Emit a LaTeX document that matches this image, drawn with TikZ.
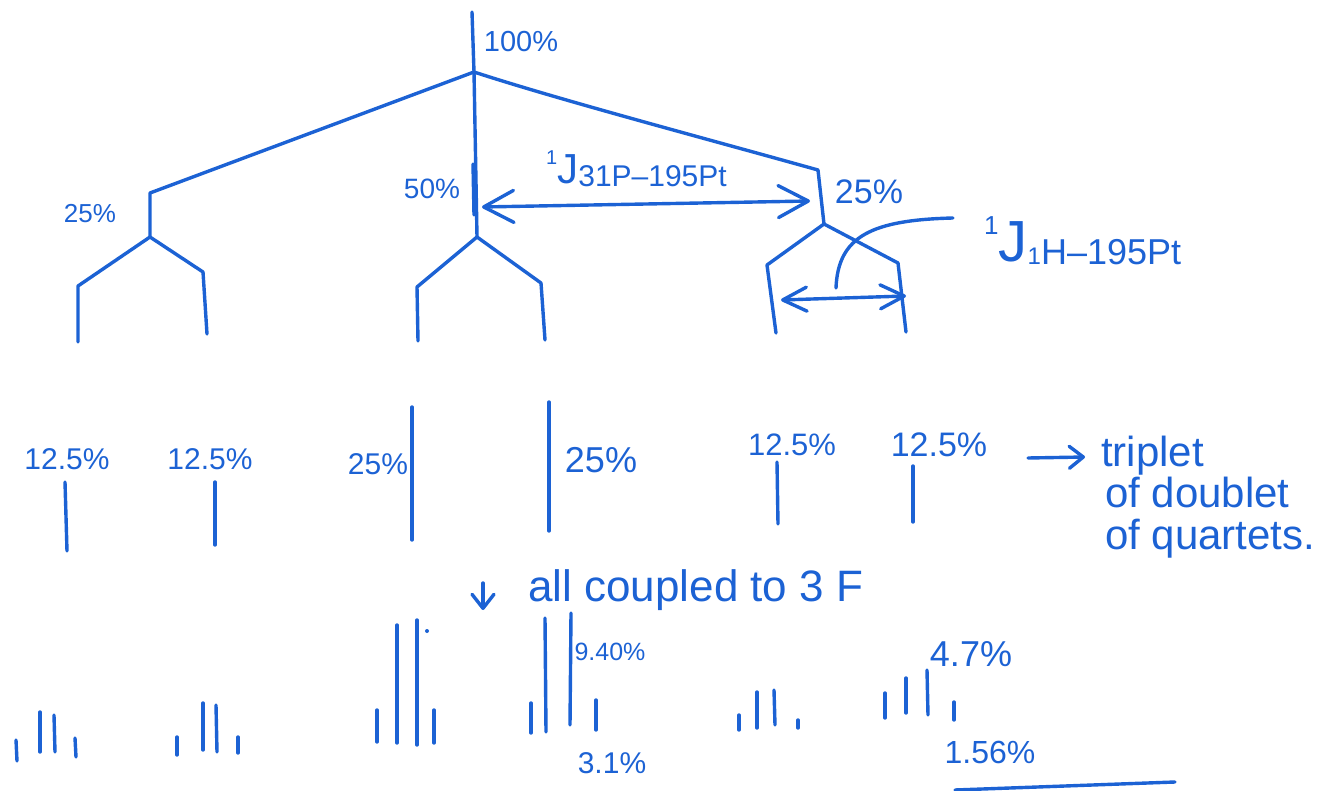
\documentclass[tikz,border=0pt]{standalone}
\usepackage{fontspec}
\setmainfont{Liberation Sans}
\usetikzlibrary{arrows.meta}
\definecolor{ink}{RGB}{28,98,212}
\tikzset{
  pen/.style={draw=ink, line width=3.4pt, line cap=round, line join=round},
  lbl/.style={text=ink, inner sep=0pt, font=\fontsize{#1}{#1}\selectfont},
  bigarr/.style={arrows={Straight Barb[round,length=30pt,width=32pt]-Straight Barb[round,length=30pt,width=32pt]}},
  smallarr/.style={arrows={Straight Barb[round,length=24pt,width=24pt]-Straight Barb[round,length=24pt,width=24pt]}},
  onearr/.style={arrows={-Straight Barb[round,length=14pt,width=22pt]}}
}
\begin{document}
\begin{tikzpicture}[x=1pt,y=-1pt]
\useasboundingbox (0,0) rectangle (1328,791);
% ---------- coordinates of the splitting tree ----------
\coordinate (r0) at (472,12);  \coordinate (r1) at (474,72);
\coordinate (l0) at (150,193); \coordinate (l1) at (150,237);
\coordinate (l2) at (78,286);  \coordinate (l3) at (78,342);
\coordinate (l4) at (203,272); \coordinate (l5) at (207,334);
\coordinate (m1) at (477,237);
\coordinate (m2) at (417,287); \coordinate (m3) at (418,341);
\coordinate (m4) at (541,283); \coordinate (m5) at (545,340);
\coordinate (ms0) at (473,164); \coordinate (ms1) at (474,215);
\coordinate (t0) at (818,170); \coordinate (t1) at (824,224);
\coordinate (t2) at (767,265); \coordinate (t3) at (776,333);
\coordinate (t4) at (898,263); \coordinate (t5) at (906,332);
% tree
\draw[pen] (r0) -- (r1) -- (m1);
\draw[pen] (ms0) -- (ms1);
\draw[pen] (r1) -- (l0) -- (l1);
\draw[pen] (l3) -- (l2) -- (l1) -- (l4) -- (l5);
\draw[pen] (m3) -- (m2) -- (m1) -- (m4) -- (m5);
\draw[pen] (r1) .. controls (560,100) and (700,137) .. (t0) -- (t1);
\draw[pen] (t3) -- (t2) -- (t1) -- (t4) -- (t5);
% labels of tree
\node[lbl=29] (p100) at (521,42) {100\%};
\node[lbl=26] (p25a) at (90,214) {25\%};
\node[lbl=28] (p50) at (432,189) {50\%};
\node[lbl=34] (p25b) at (869,192) {25\%};
% J(P-Pt)
\coordinate (jA) at (482,207); \coordinate (jB) at (810,201);
\draw[pen,bigarr] (jA) -- (jB);
\node[lbl=30, anchor=base west] (jpp) at (546,184)
  {\raisebox{19pt}{\fontsize{20}{20}\selectfont 1}{\fontsize{42}{42}\selectfont J}\raisebox{-3pt}{31P–195Pt}};
% J(H-Pt)
\coordinate (pc0) at (953,218); \coordinate (pc1) at (836,288);
\draw[pen] (pc0) .. controls (872,220) and (838,236) .. (pc1);
\coordinate (hA) at (781,300); \coordinate (hB) at (906,296);
\draw[pen,smallarr] (hA) -- (hB);
\node[lbl=36, anchor=base west] (jhp) at (984,262)
  {\raisebox{27pt}{\fontsize{26}{26}\selectfont 1}{\fontsize{58}{58}\selectfont J}\raisebox{-3pt}{{\fontsize{24}{24}\selectfont 1}H–195Pt}};
% ---------- second row ----------
\coordinate (a1t) at (65,482);  \coordinate (a1b) at (67,551);
\coordinate (a2t) at (215,482); \coordinate (a2b) at (215,545);
\coordinate (a3t) at (412,407); \coordinate (a3b) at (412,540);
\coordinate (a4t) at (549,402); \coordinate (a4b) at (549,531);
\coordinate (a5t) at (777,462); \coordinate (a5b) at (778,524);
\coordinate (a6t) at (913,466); \coordinate (a6b) at (913,522);
\foreach \i in {1,...,6} \draw[pen] (a\i t) -- (a\i b);
\node[lbl=30] (q1) at (67,459) {12.5\%};
\node[lbl=30] (q2) at (210,459) {12.5\%};
\node[lbl=30] (q3) at (378,464) {25\%};
\node[lbl=36] (q4) at (601,460) {25\%};
\node[lbl=31] (q5) at (792,445) {12.5\%};
\node[lbl=34] (q6) at (939,445) {12.5\%};
\coordinate (tA) at (1028,458); \coordinate (tB) at (1085,457);
\draw[pen,onearr] (tA) -- (tB);
\node[lbl=42, anchor=base west] (tr1) at (1101,466) {triplet};
\node[lbl=42, anchor=base west] (tr2) at (1105,507) {of doublet};
\node[lbl=42, anchor=base west] (tr3) at (1105,549) {of quartets.};
% ---------- third row ----------
\coordinate (dA) at (483,583); \coordinate (dB) at (483,610);
\draw[pen,onearr] (dA) -- (dB);
\node[lbl=44, anchor=base west] (cpl) at (528,601) {all coupled to 3 F};
% group 1
\draw[pen] (16,740) -- (17,761);  \draw[pen] (40,712) -- (40,752);
\draw[pen] (54,715) -- (55,752);  \draw[pen] (75,738) -- (76,757);
% group 2
\draw[pen] (177,737) -- (177,755); \draw[pen] (203,703) -- (203,750);
\draw[pen] (216,705) -- (217,752); \draw[pen] (238,737) -- (238,753);
% group 3
\draw[pen] (377,710) -- (377,742); \draw[pen] (397,625) -- (397,743);
\draw[pen] (417,620) -- (417,745); \draw[pen] (434,710) -- (434,743);
\fill[ink] (427,631) circle (2pt);
% group 4
\draw[pen] (531,703) -- (531,733); \draw[pen] (545,618) -- (546,732);
\draw[pen] (571,613) -- (570,725); \draw[pen] (596,700) -- (596,730);
% group 5
\draw[pen] (739,715) -- (739,730); \draw[pen] (757,692) -- (757,728);
\draw[pen] (774,690) -- (775,725); \draw[pen] (798,720) -- (798,728);
% group 6
\draw[pen] (885,693) -- (885,718); \draw[pen] (906,678) -- (906,713);
\draw[pen] (927,670) -- (928,715); \draw[pen] (954,702) -- (954,720);
\node[lbl=25] (s1) at (610,652) {9.40\%};
\node[lbl=30] (s2) at (612,763) {3.1\%};
\node[lbl=36] (s3) at (971,654) {4.7\%};
\node[lbl=32] (s4) at (990,752) {1.56\%};
\coordinate (bl0) at (955,790); \coordinate (bl1) at (1175,782);
\draw[pen] (bl0) -- (bl1);
\end{tikzpicture}
\end{document}
